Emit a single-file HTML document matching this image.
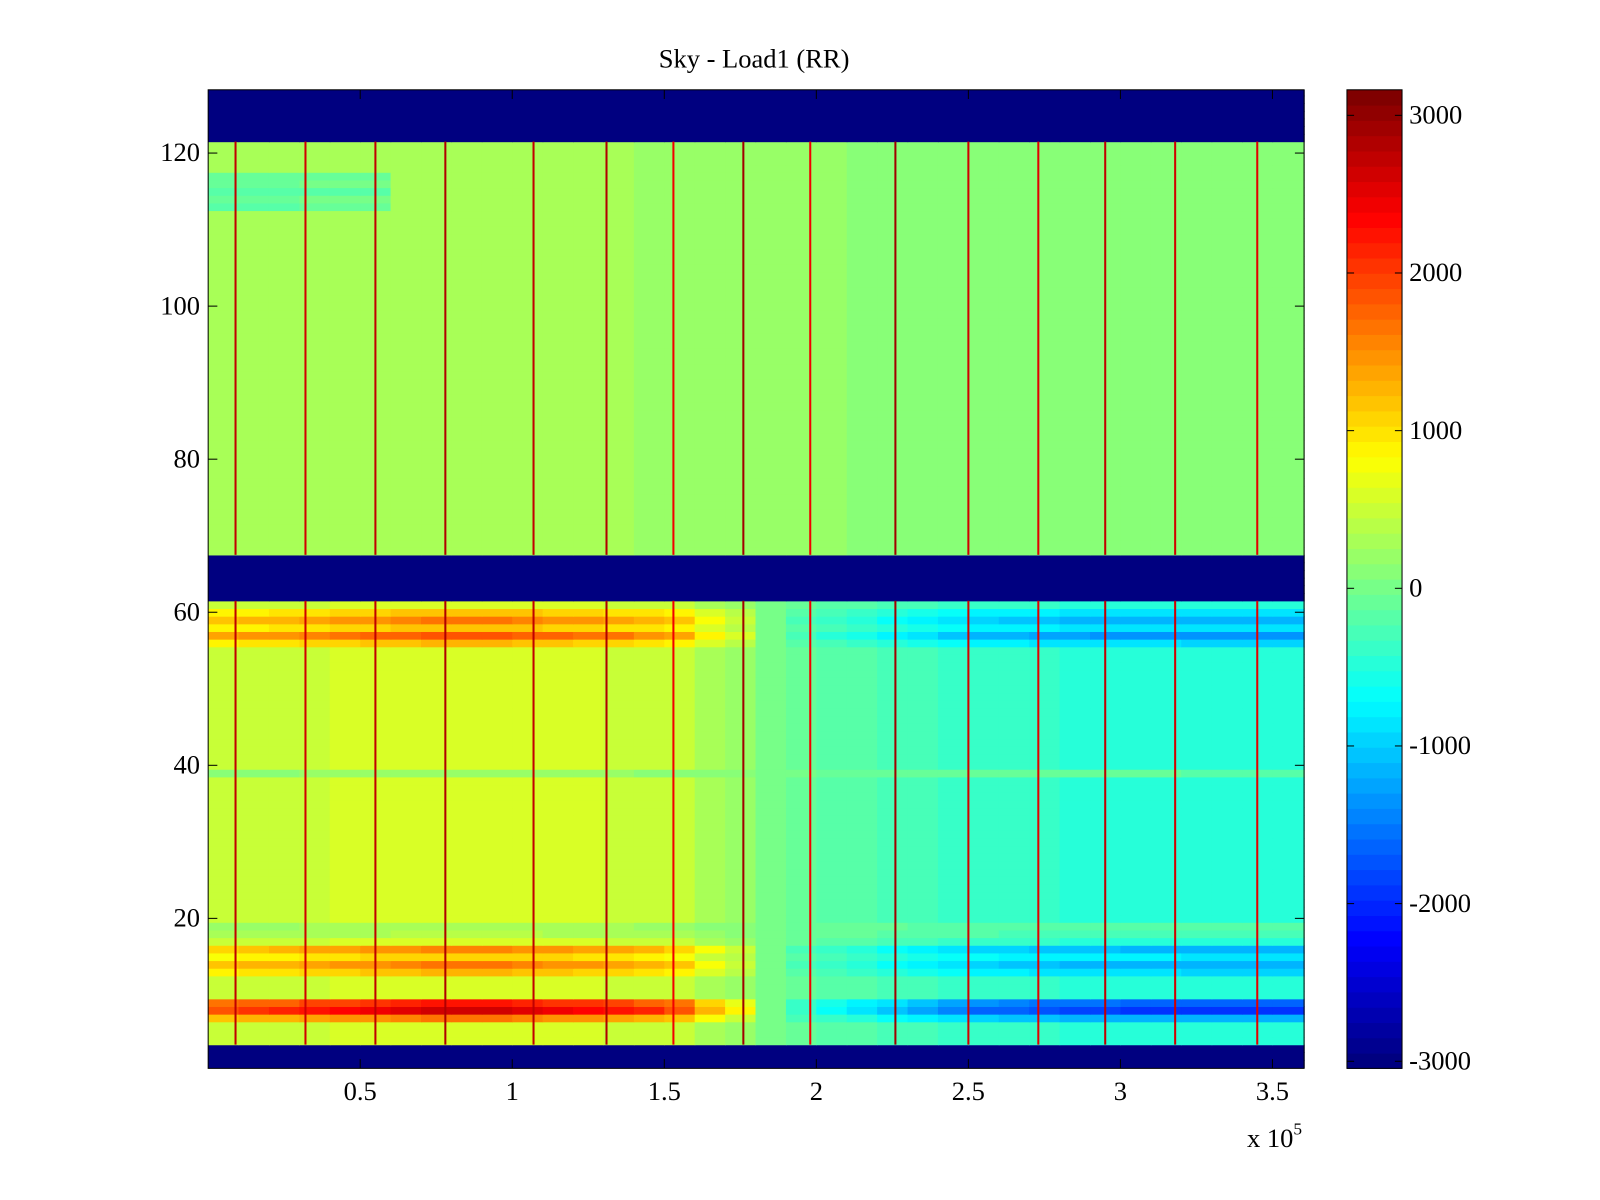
<!DOCTYPE html>
<html><head><meta charset="utf-8"><style>
html,body{margin:0;padding:0;background:#fff;}
svg{display:block;font-family:"Liberation Serif",serif;}
</style></head><body>
<svg id="chart" width="1600" height="1200" viewBox="0 0 1568 1176" xmlns="http://www.w3.org/2000/svg">
<text x="739" y="66" font-size="26" text-anchor="middle">Sky - Load1 (RR)</text>
<g id="cells"></g>
<g id="spikes"></g>
<rect x="204" y="88" width="1074" height="959" fill="none" stroke="#000" stroke-width="1"/>
<g id="axes" font-size="26"></g>
<text x="1222" y="1124" font-size="26">x 10<tspan font-size="17" dy="-12">5</tspan></text>
<g id="cbar"></g>
</svg>
<script>
// ---- data ----
const xBinStarts = [0,0.1,0.2,0.3,0.4,0.5,0.6,0.7,0.8,0.9,1.0,1.1,1.2,1.3,1.4,1.5,1.6,1.7,1.8,1.9,2.0,2.1,2.2,2.3,2.4,2.5,2.6,2.7,2.8,2.9,3.0,3.1,3.2,3.3,3.4,3.5];
const lowerTrend = [450,480,500,530,550,580,600,620,620,620,600,580,560,540,500,450,300,200,0,-100,-150,-200,-250,-300,-350,-380,-400,-420,-430,-440,-450,-450,-460,-460,-460,-460];
const upperTrend = [300,300,300,320,330,340,340,340,330,320,300,280,270,260,250,240,230,220,200,180,160,150,140,130,120,110,100,100,90,90,80,80,80,70,70,70];
const blankRows = [1,2,3,62,63,64,65,66,67,122,123,124,125,126,127,128];
const hotRows = [7,8,9,13,14,15,16,56,57,58,59,60,18,19,39];
const hotGain = [2.6,4.2,3.6,2.0,2.6,1.8,2.5,2.0,3.0,1.9,2.6,1.9,0.6,0.5,0.3];
const coolRows = [113,114,115,116,117];
const coolOffset = [-450,-350,-500,-350,-400];
const spikeX = [0.09,0.32,0.55,0.78,1.07,1.31,1.53,1.76,1.98,2.26,2.50,2.73,2.95,3.18,3.45];
const spikeVal = [2700,2600,2700,2800,2700,2800,2400,2900,2400,2900,2600,2500,2700,2600,2500];
const xTicks = [0.5,1,1.5,2,2.5,3,3.5];
const xTickLabels = ["0.5","1","1.5","2","2.5","3","3.5"];
const yTicks = [20,40,60,80,100,120];
const cbTicks = [3000,2000,1000,0,-1000,-2000,-3000];
const cbTickLabels = ["3000","2000","1000","0","-1000","-2000","-3000"];
// ---- scales ----
const X0=204,X1=1278,Y0=88,Y1=1047;
const xs = v => X0 + (v/3.604)*(X1-X0);
const ys = v => 1050 - v*7.5;
const VMIN=-3045, VMAX=3162;
const cbY = v => 88 + (VMAX-v)/(VMAX-VMIN)*959;
function jet(v){
  let t=(v-VMIN)/(VMAX-VMIN); t=Math.max(0,Math.min(1,t));
  t=Math.floor(t*63.999)/63;
  const f=x=>Math.max(0,Math.min(1,x));
  const r=f(1.5-Math.abs(4*t-3)), g=f(1.5-Math.abs(4*t-2)), b=f(1.5-Math.abs(4*t-1));
  return `rgb(${Math.round(r*255)},${Math.round(g*255)},${Math.round(b*255)})`;
}
const NS="http://www.w3.org/2000/svg";
function mk(tag,attrs,parent){const e=document.createElementNS(NS,tag);for(const k in attrs)e.setAttribute(k,attrs[k]);parent.appendChild(e);return e;}
const cells=document.getElementById('cells');
for(let r=1;r<=128;r++){
  const yTop=ys(r+0.5), yBot=ys(r-0.5);
  for(let c=0;c<xBinStarts.length;c++){
    const xa=xs(xBinStarts[c]), xb=c+1<xBinStarts.length?xs(xBinStarts[c+1]):X1;
    let v;
    if(blankRows.includes(r)) v=VMIN;
    else if(r<62){ const i=hotRows.indexOf(r); v=lowerTrend[c]*(i>=0?hotGain[i]:1); }
    else { const i=coolRows.indexOf(r); v=upperTrend[c]+(i>=0&&c<6?coolOffset[i]:0); }
    const e=mk('rect',{x:xa.toFixed(2),y:Math.max(Y0,yTop).toFixed(2),width:(xb-xa+0.6).toFixed(2),height:(Math.min(Y1,yBot)-Math.max(Y0,yTop)+0.6).toFixed(2),fill:jet(v)},cells);
    
    
  }
}
const spikes=document.getElementById('spikes');
spikeX.forEach((sx,i)=>{
  [[3.5,61.5],[67.5,121.5]].forEach(([a,b])=>{
    const e=mk('rect',{x:(xs(sx)-1).toFixed(2),y:ys(b).toFixed(2),width:2,height:(ys(a)-ys(b)).toFixed(2),fill:jet(spikeVal[i])},spikes);
    
    
  });
});
const axes=document.getElementById('axes');
xTicks.forEach((t,i)=>{
  const x=xs(t);
  mk('line',{x1:x,x2:x,y1:Y1,y2:Y1-9,stroke:'#000'},axes);
  mk('line',{x1:x,x2:x,y1:Y0,y2:Y0+9,stroke:'#000'},axes);
  const e=mk('text',{x:x,y:1078,'text-anchor':'middle'},axes); e.textContent=xTickLabels[i];
  
  
});
yTicks.forEach(t=>{
  const y=ys(t);
  mk('line',{x1:X0,x2:X0+9,y1:y,y2:y,stroke:'#000'},axes);
  mk('line',{x1:X1,x2:X1-9,y1:y,y2:y,stroke:'#000'},axes);
  const e=mk('text',{x:196,y:y+8,'text-anchor':'end'},axes); e.textContent=String(t);
  
  
});
const cb=document.getElementById('cbar');
for(let k=0;k<64;k++){
  const v1=VMIN+(VMAX-VMIN)*k/64, v2=VMIN+(VMAX-VMIN)*(k+1)/64;
  const e=mk('rect',{x:1320,y:cbY(v2).toFixed(2),width:54,height:(cbY(v1)-cbY(v2)+0.5).toFixed(2),fill:jet((v1+v2)/2)},cb);
  
  
}
mk('rect',{x:1320,y:88,width:54,height:959,fill:'none',stroke:'#000'},cb);
cbTicks.forEach((t,i)=>{
  const y=cbY(t);
  mk('line',{x1:1320,x2:1327,y1:y,y2:y,stroke:'#000'},cb);
  mk('line',{x1:1374,x2:1367,y1:y,y2:y,stroke:'#000'},cb);
  const e=mk('text',{x:1381,y:y+8,'font-size':26},cb); e.textContent=cbTickLabels[i];
  
  
});
</script>
</body></html>
